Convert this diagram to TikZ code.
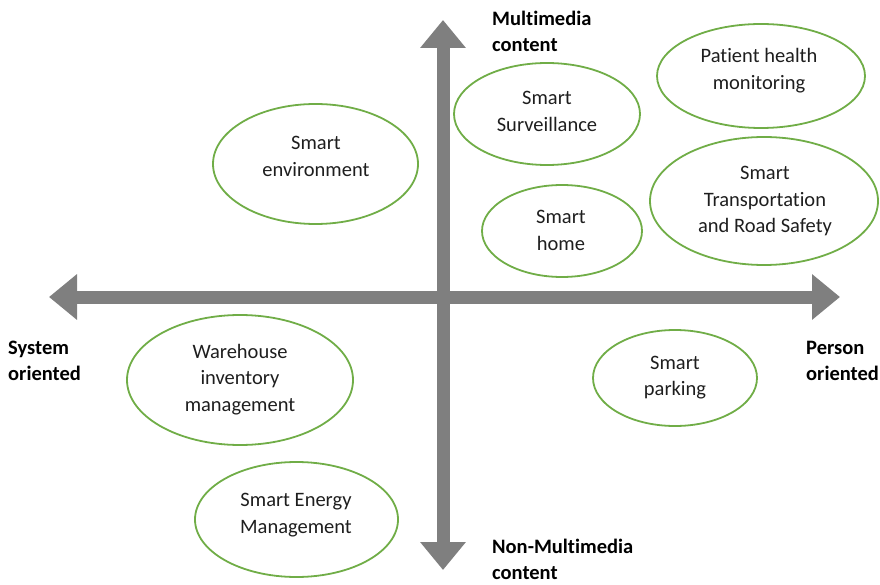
\documentclass[tikz,border=0pt]{standalone}
\usepackage{fontspec}
\setmainfont[Ligatures=NoCommon]{Carlito}
\usetikzlibrary{arrows.meta,shapes.geometric}
\definecolor{axisgray}{HTML}{7F7F7F}
\definecolor{ovalgreen}{HTML}{70AD47}
\definecolor{txtgray}{HTML}{1E1E1E}
\tikzset{
  axisline/.style={draw=axisgray,line width=13pt,
    {Triangle[length=28pt,width=44pt,fill=axisgray]}-{Triangle[length=28pt,width=44pt,fill=axisgray]}},
  oval/.style={ellipse,draw=ovalgreen,line width=1.8pt,inner sep=0pt},
  ovaltext/.style={align=center,inner sep=0pt,text=txtgray,font=\fontsize{20.5}{26.5}\selectfont},
  axislabel/.style={anchor=west,align=left,inner sep=0pt,font=\fontsize{20.5}{26.5}\selectfont\bfseries}
}
\begin{document}
\begin{tikzpicture}[x=1pt,y=-1pt]
\useasboundingbox (0,0) rectangle (880,585);
\coordinate (xl) at (49,297);
\coordinate (xr) at (840,297);
\coordinate (yt) at (443,20);
\coordinate (yb) at (443,570);
\draw[axisline] (xl) -- (xr);
\draw[axisline] (yb) -- (yt);

\node[axislabel] (mm) at (492,31.5) {Multimedia\\content};
\node[axislabel] (nmm) at (492,559.5) {Non-Multimedia\\content};
\node[axislabel] (so) at (8,361) {System\\oriented};
\node[axislabel] (po) at (806,361) {Person\\oriented};

\node[oval,minimum width=186pt,minimum height=102pt] (surv) at (547,114) {};
\node[ovaltext] (survt) at (547,111.5) {Smart\\Surveillance};
\node[oval,minimum width=208pt,minimum height=104pt] (pat) at (761,76) {};
\node[ovaltext] (patt) at (759,70.5) {Patient health\\monitoring};
\node[oval,minimum width=205pt,minimum height=120pt] (env) at (315.5,164) {};
\node[ovaltext] (envt) at (316,156.5) {Smart\\environment};
\node[oval,minimum width=160pt,minimum height=92pt] (home) at (562,231) {};
\node[ovaltext] (homet) at (561,230.5) {Smart\\home};
\node[oval,minimum width=228pt,minimum height=128pt] (trans) at (764,201) {};
\node[ovaltext] (transt) at (765,201.5) {Smart\\Transportation\\and Road Safety};
\node[oval,minimum width=226pt,minimum height=130pt] (ware) at (240,380) {};
\node[ovaltext] (waret) at (240,379.5) {Warehouse\\inventory\\management};
\node[oval,minimum width=164pt,minimum height=96pt] (park) at (675,378) {};
\node[ovaltext] (parkt) at (675,377.5) {Smart\\parking};
\node[oval,minimum width=203pt,minimum height=115pt] (energy) at (296.5,519.5) {};
\node[ovaltext] (energyt) at (296,515) {Smart Energy\\Management};
\end{tikzpicture}
\end{document}
